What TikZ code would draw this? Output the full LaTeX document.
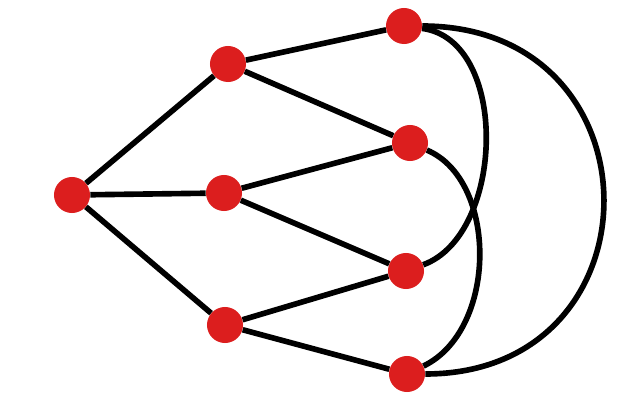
\documentclass[tikz,border=0pt]{standalone}
\usepackage{tikz}
\definecolor{nodered}{RGB}{220,30,30}
\begin{document}
\begin{tikzpicture}[x = 0.025cm, y = -0.025cm,
    every node/.style = {shape = circle, fill = nodered, minimum size = 0.9cm, inner sep = 0pt},
    edge/.style = {line width = 4pt}]
    \useasboundingbox (0,0) rectangle (640,400);
        \node (l)  at (72,195)  {};
        \node (m1) at (228,64)  {};
        \node (m2) at (224,193) {};
        \node (m3) at (225,325) {};
        \node (r1) at (404,26)  {};
        \node (r2) at (410,143) {};
        \node (r3) at (406,271) {};
        \node (r4) at (407,374) {};
        \draw[edge] (l) -- (m1);
        \draw[edge] (l) -- (m2);
        \draw[edge] (l) -- (m3);
        \draw[edge] (m1) -- (r1);
        \draw[edge] (m1) -- (r2);
        \draw[edge] (m2) -- (r2);
        \draw[edge] (m2) -- (r3);
        \draw[edge] (m3) -- (r3);
        \draw[edge] (m3) -- (r4);
        \draw[edge] (r1) .. controls (510,40) and (505,235) .. (r3);
        \draw[edge] (r2) .. controls (498,180) and (498,330) .. (r4);
        \draw[edge] (r1) .. controls (664,26) and (664,374) .. (r4);
\end{tikzpicture}
\end{document}
